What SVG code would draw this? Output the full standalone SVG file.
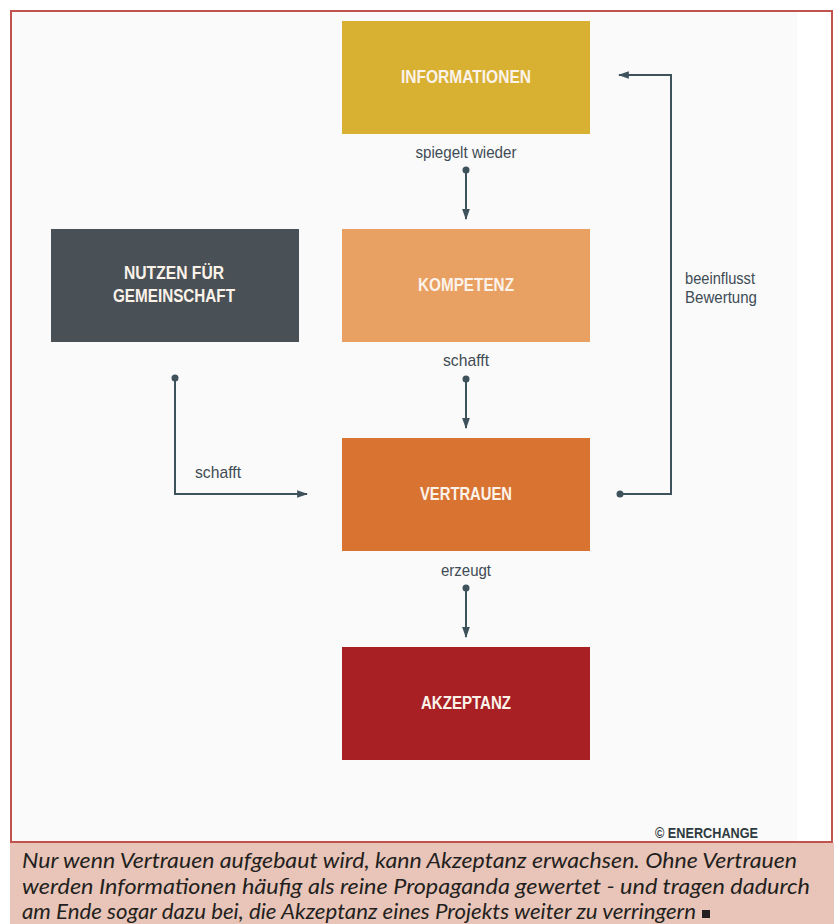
<svg xmlns="http://www.w3.org/2000/svg" width="837" height="924" viewBox="0 0 837 924">
<defs>
<style>
.box-t{font-family:"Liberation Sans",Arial,sans-serif;font-weight:bold;font-size:18px;fill:#fbf3ea;text-anchor:middle}
.lbl{font-family:"Liberation Sans",Arial,sans-serif;font-size:17px;fill:#3e4c55}
.con{fill:none;stroke:#3e525c;stroke-width:2}
.cap{font-family:Lato,"Open Sans",sans-serif;font-style:italic;font-size:21px;fill:#231f20}
</style>
<marker id="ah2" viewBox="0 0 10 10" refX="9" refY="5" markerWidth="11" markerHeight="11" orient="auto" markerUnits="userSpaceOnUse">
<path d="M0,1.5 L10,5 L0,8.5 z" fill="#3e525c"/>
</marker>
</defs>
<rect x="0" y="0" width="837" height="924" fill="#ffffff"/>
<rect x="11" y="11" width="786" height="831" fill="#fbfafa"/>
<rect x="11" y="11" width="821" height="831" fill="none" stroke="#c0534e" stroke-width="2"/>
<rect x="10" y="843" width="824" height="81" fill="#e8c5b8"/>

<g id="n-informationen">
<rect x="342" y="21" width="248" height="113" fill="#d8b032"/>
<text class="box-t" x="466" y="83" textLength="130" lengthAdjust="spacingAndGlyphs">INFORMATIONEN</text>
</g>
<g id="n-kompetenz">
<rect x="342" y="229" width="248" height="113" fill="#e9a063"/>
<text class="box-t" x="466" y="291" textLength="96" lengthAdjust="spacingAndGlyphs">KOMPETENZ</text>
</g>
<g id="n-vertrauen">
<rect x="342" y="438" width="248" height="113" fill="#d97332"/>
<text class="box-t" x="466" y="500" textLength="92" lengthAdjust="spacingAndGlyphs">VERTRAUEN</text>
</g>
<g id="n-akzeptanz">
<rect x="342" y="647" width="248" height="113" fill="#a82024"/>
<text class="box-t" x="466" y="709" textLength="90" lengthAdjust="spacingAndGlyphs">AKZEPTANZ</text>
</g>
<g id="n-nutzen">
<rect x="51" y="229" width="248" height="113" fill="#4a5156"/>
<text class="box-t" x="174" y="279" textLength="100" lengthAdjust="spacingAndGlyphs">NUTZEN FÜR</text>
<text class="box-t" x="174" y="302" textLength="122" lengthAdjust="spacingAndGlyphs">GEMEINSCHAFT</text>
</g>

<g id="connectors">
<circle cx="466" cy="170" r="3.5" fill="#3e525c"/>
<line class="con" x1="466" y1="170" x2="466" y2="219" marker-end="url(#ah2)"/>
<circle cx="466" cy="379" r="3.5" fill="#3e525c"/>
<line class="con" x1="466" y1="379" x2="466" y2="428" marker-end="url(#ah2)"/>
<circle cx="466" cy="588" r="3.5" fill="#3e525c"/>
<line class="con" x1="466" y1="588" x2="466" y2="637" marker-end="url(#ah2)"/>
<circle cx="175" cy="378" r="3.5" fill="#3e525c"/>
<polyline class="con" points="175,378 175,494 307,494" marker-end="url(#ah2)"/>
<circle cx="620" cy="494" r="3.5" fill="#3e525c"/>
<polyline class="con" points="620,494 671,494 671,75 619,75" marker-end="url(#ah2)"/>
<text class="lbl" x="466" y="158" text-anchor="middle" textLength="101" lengthAdjust="spacingAndGlyphs">spiegelt wieder</text>
<text class="lbl" x="466" y="366" text-anchor="middle" textLength="46" lengthAdjust="spacingAndGlyphs">schafft</text>
<text class="lbl" x="466" y="576" text-anchor="middle" textLength="50" lengthAdjust="spacingAndGlyphs">erzeugt</text>
<text class="lbl" x="195" y="478" textLength="46" lengthAdjust="spacingAndGlyphs">schafft</text>
<text class="lbl" x="685" y="284" textLength="70" lengthAdjust="spacingAndGlyphs">beeinflusst</text>
<text class="lbl" x="685" y="303" textLength="72" lengthAdjust="spacingAndGlyphs">Bewertung</text>
</g>

<text x="655" y="838" font-family="Liberation Sans,Arial,sans-serif" font-weight="bold" font-size="15" fill="#2f3a40" textLength="103" lengthAdjust="spacingAndGlyphs">© ENERCHANGE</text>

<text class="cap" x="22" y="868" textLength="775" lengthAdjust="spacingAndGlyphs">Nur wenn Vertrauen aufgebaut wird, kann Akzeptanz erwachsen. Ohne Vertrauen</text>
<text class="cap" x="22" y="894" textLength="788" lengthAdjust="spacingAndGlyphs">werden Informationen häufig als reine Propaganda gewertet - und tragen dadurch</text>
<text class="cap" x="22" y="919" textLength="674" lengthAdjust="spacingAndGlyphs">am Ende sogar dazu bei, die Akzeptanz eines Projekts weiter zu verringern</text>
<rect x="702" y="910" width="8" height="8" fill="#231f20"/>
</svg>
